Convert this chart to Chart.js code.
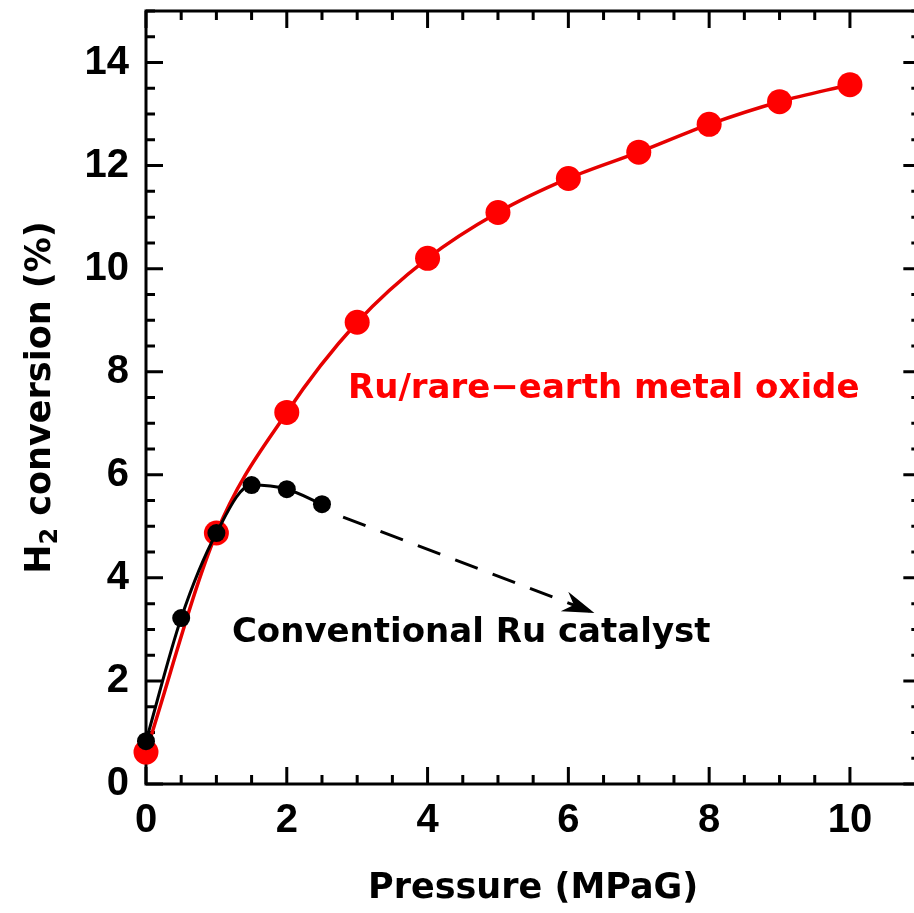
<!DOCTYPE html>
<html>
<head>
<meta charset="utf-8">
<script src="https://cdn.jsdelivr.net/npm/chart.js@4.4.1/dist/chart.umd.min.js"></script>
<style>
  html, body { margin: 0; padding: 0; background: #fff; overflow: hidden; }
  #wrap { width: 914px; height: 913px; }
  canvas { display: block; }
</style>
</head>
<body>
<div id="wrap"><canvas id="chart" width="914" height="913" style="width:914px;height:913px"></canvas></div>
<script>
// H2 conversion (%) against pressure (MPaG)
const oxidePressure = [0, 1, 2, 3, 4, 5, 6, 7, 8, 9, 10];
const oxideConversion = [0.62, 4.87, 7.21, 8.96, 10.2, 11.09, 11.75, 12.26, 12.8, 13.24, 13.57];
const convPressure = [0, 0.5, 1, 1.5, 2, 2.5];
const convConversion = [0.83, 3.22, 4.87, 5.8, 5.72, 5.43];
// dashed trend arrow after the last conventional point
const trendPressure = [2.8, 6.37];
const trendConversion = [5.18, 3.32];
const xMajor = [0, 2, 4, 6, 8, 10];
const yMajor = [0, 2, 4, 6, 8, 10, 12, 14];
// the frame runs to 11, the canvas only shows up to ~10.9
const xFrameEnd = 11;
const xShownMax = 10.91;

const textFont = '"DejaVu Sans", sans-serif';
const numFont = '"Liberation Sans", Arial, sans-serif';

const toPoints = (xs, ys) => xs.map((x, i) => ({ x: x, y: ys[i] }));
const onHalfStep = v => Math.abs(v * 2 - Math.round(v * 2)) < 1e-9;

// no extra room for half-labels at the ends of the axes
const noEndPadding = s => {
  s.paddingTop = 0; s.paddingBottom = 0;
  s.paddingLeft = 0; s.paddingRight = 0;
};

// frame with inward ticks on all four sides
const framePlugin = {
  id: 'frame',
  beforeDatasetsDraw(chart) {
    const { ctx, chartArea: a, scales } = chart;
    const right = scales.x.getPixelForValue(xFrameEnd);
    ctx.save();
    ctx.strokeStyle = '#000';
    ctx.lineWidth = 3;
    ctx.strokeRect(a.left, a.top, right - a.left, a.bottom - a.top);
    ctx.beginPath();
    scales.x.ticks.forEach(t => {
      if (!onHalfStep(t.value)) return;
      const px = scales.x.getPixelForValue(t.value);
      const len = xMajor.includes(t.value) ? 17 : 9;
      ctx.moveTo(px, a.bottom); ctx.lineTo(px, a.bottom - len);
      ctx.moveTo(px, a.top); ctx.lineTo(px, a.top + len);
    });
    scales.y.ticks.forEach(t => {
      const py = scales.y.getPixelForValue(t.value);
      const len = yMajor.includes(t.value) ? 17 : 9;
      ctx.moveTo(a.left, py); ctx.lineTo(a.left + len, py);
      ctx.moveTo(right, py); ctx.lineTo(right - len, py);
    });
    ctx.stroke();
    ctx.restore();
  },
  afterDatasetsDraw(chart) {
    const { ctx, chartArea: a, scales } = chart;
    const xs = scales.x, ys = scales.y;
    ctx.save();

    // arrow head at the end of the trend line
    const n = trendPressure.length - 1;
    const tx = xs.getPixelForValue(trendPressure[n]);
    const ty = ys.getPixelForValue(trendConversion[n]);
    const fx = xs.getPixelForValue(trendPressure[n - 1]);
    const fy = ys.getPixelForValue(trendConversion[n - 1]);
    const d = Math.hypot(tx - fx, ty - fy);
    const ux = (tx - fx) / d, uy = (ty - fy) / d;
    const L = 32, W = 10.5, notch = 22;
    ctx.fillStyle = '#000';
    ctx.beginPath();
    ctx.moveTo(tx, ty);
    ctx.lineTo(tx - L * ux - W * uy, ty - L * uy + W * ux);
    ctx.lineTo(tx - notch * ux, ty - notch * uy);
    ctx.lineTo(tx - L * ux + W * uy, ty - L * uy - W * ux);
    ctx.closePath();
    ctx.fill();

    // series labels
    ctx.textBaseline = 'alphabetic';
    ctx.textAlign = 'left';
    ctx.font = 'bold 34px ' + textFont;
    ctx.fillStyle = '#ff0000';
    ctx.fillText('Ru/rare\u2212earth metal oxide', xs.getPixelForValue(2.87), ys.getPixelForValue(7.49));
    ctx.fillStyle = '#000';
    ctx.fillText('Conventional Ru catalyst', xs.getPixelForValue(1.22), ys.getPixelForValue(2.75));

    // axis titles
    const right = xs.getPixelForValue(xFrameEnd);
    ctx.font = 'bold 35px ' + textFont;
    ctx.textAlign = 'center';
    ctx.fillText('Pressure (MPaG)', (a.left + right) / 2, a.bottom + 114);

    ctx.translate(50, (a.top + a.bottom) / 2);
    ctx.rotate(-Math.PI / 2);
    ctx.textAlign = 'left';
    const big = 'bold 35px ' + textFont, small = 'bold 24px ' + textFont;
    ctx.font = big;
    const wH = ctx.measureText('H').width;
    const wRest = ctx.measureText(' conversion (%)').width;
    ctx.font = small;
    const w2 = ctx.measureText('2').width;
    const x0 = -(wH + w2 + wRest) / 2;
    ctx.font = big;
    ctx.fillText('H', x0, 0);
    ctx.font = small;
    ctx.fillText('2', x0 + wH, 7);
    ctx.font = big;
    ctx.fillText(' conversion (%)', x0 + wH + w2, 0);
    ctx.restore();
  }
};

new Chart(document.getElementById('chart'), {
  type: 'line',
  data: {
    datasets: [
      {
        label: 'Conventional Ru catalyst',
        data: toPoints(convPressure, convConversion),
        borderColor: '#000',
        backgroundColor: '#000',
        borderWidth: 3,
        pointRadius: 9,
        pointBorderWidth: 0,
        cubicInterpolationMode: 'monotone',
        clip: false,
        order: 0
      },
      {
        label: 'trend',
        data: toPoints(trendPressure, trendConversion),
        borderColor: '#000',
        borderWidth: 3,
        borderDash: [24, 16],
        pointRadius: 0,
        clip: false,
        order: 1
      },
      {
        label: 'Ru/rare-earth metal oxide',
        data: toPoints(oxidePressure, oxideConversion),
        borderColor: '#e60000',
        backgroundColor: '#ff0000',
        borderWidth: 3.5,
        pointRadius: 12.5,
        pointBorderWidth: 0,
        cubicInterpolationMode: 'monotone',
        clip: false,
        order: 2
      }
    ]
  },
  options: {
    responsive: false,
    animation: false,
    // points may hang over the frame; don't shrink the plot for them
    layout: { autoPadding: false, padding: { left: 0, top: 11, right: 0, bottom: 0 } },
    plugins: { legend: { display: false }, tooltip: { enabled: false } },
    elements: { point: { hoverRadius: 0 } },
    scales: {
      x: {
        type: 'linear',
        min: 0,
        max: xShownMax,
        grid: { display: false, drawTicks: false },
        border: { display: false },
        afterFit: s => { s.height = 129; noEndPadding(s); },
        ticks: {
          stepSize: 0.5,
          autoSkip: false,
          maxRotation: 0,
          padding: 13,
          color: '#000',
          font: { family: numFont, size: 40, weight: 'bold' },
          callback: v => xMajor.includes(v) ? String(v) : ''
        }
      },
      y: {
        type: 'linear',
        min: 0,
        max: 15,
        grid: { display: false, drawTicks: false },
        border: { display: false },
        afterFit: s => { s.width = 146; noEndPadding(s); },
        ticks: {
          stepSize: 0.5,
          autoSkip: false,
          padding: 17,
          color: '#000',
          font: { family: numFont, size: 40, weight: 'bold' },
          callback: v => yMajor.includes(v) ? String(v) : ''
        }
      }
    }
  },
  plugins: [framePlugin]
});
</script>
</body>
</html>
